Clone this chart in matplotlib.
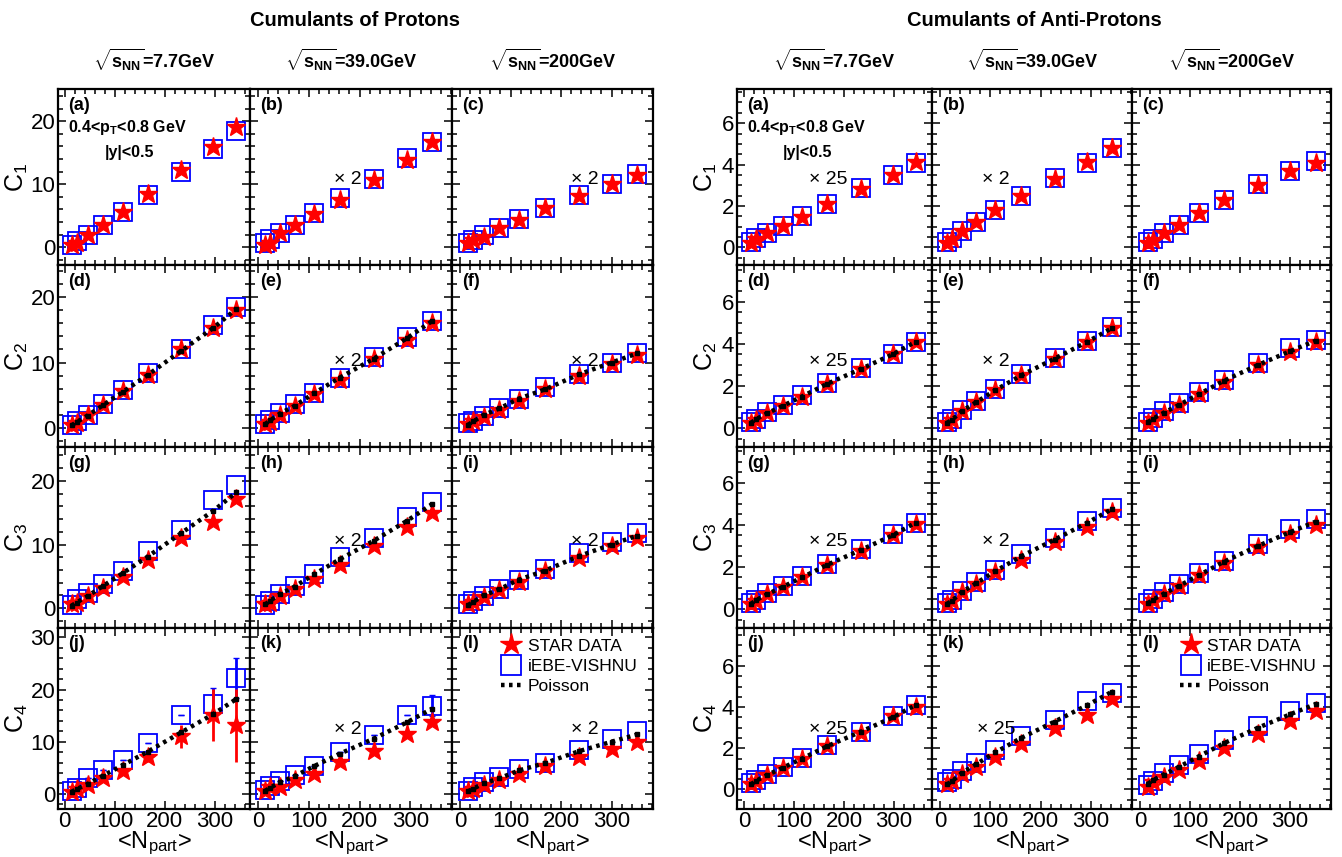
import matplotlib
matplotlib.use('Agg')
import matplotlib.pyplot as plt
from matplotlib.lines import Line2D
from matplotlib.ticker import MultipleLocator

plt.rcParams['font.family'] = ['Liberation Sans', 'DejaVu Sans']
plt.rcParams['mathtext.fontset'] = 'custom'
plt.rcParams['mathtext.rm'] = 'Liberation Sans'
plt.rcParams['mathtext.it'] = 'Liberation Sans:italic'
plt.rcParams['mathtext.bf'] = 'Liberation Sans:bold'

# <Npart> for 7.7, 39, 200 GeV
npart_77 = [14, 24, 46, 77, 116, 166, 233, 297, 343]
npart_39 = [14, 24, 43, 72, 110, 161, 228, 293, 342]
npart_200 = [16, 26, 47, 78, 117, 168, 236, 300, 351]
npart = [npart_77, npart_39, npart_200]

# ---- protons (39 and 200 GeV values as drawn, i.e. already x2) ----
p_star_c1 = [[0.4, 0.7, 2.0, 3.5, 5.6, 8.4, 12.2, 15.9, 19.0],
             [0.4, 0.7, 2.2, 3.5, 5.3, 7.5, 10.7, 13.8, 16.7],
             [0.7, 1.1, 1.7, 3.0, 4.4, 6.3, 8.2, 10.0, 11.5]]
p_star_c2 = [[0.45, 0.8, 2.0, 3.5, 5.6, 8.1, 12.0, 15.3, 18.0],
             [0.6, 0.9, 2.0, 3.4, 5.2, 7.4, 10.5, 13.4, 16.0],
             [0.6, 1.0, 1.7, 2.8, 4.2, 6.0, 8.0, 9.8, 11.2]]
p_star_c3 = [[0.6, 0.9, 1.9, 3.2, 4.9, 7.5, 11.0, 13.6, 17.1],
             [0.6, 0.9, 1.9, 3.0, 4.6, 6.8, 9.8, 12.7, 15.0],
             [0.6, 1.0, 1.7, 2.8, 4.1, 5.8, 7.9, 9.8, 11.0]]
p_star_c4 = [[0.45, 0.9, 1.7, 3.0, 4.3, 7.1, 11.0, 15.1, 13.2],
             [0.6, 1.3, 1.4, 2.6, 3.9, 6.1, 8.2, 11.4, 13.7],
             [0.6, 0.9, 1.7, 2.7, 3.8, 5.4, 7.1, 8.6, 10.0]]
p_star_c4_err_77 = [0, 0, 0, 0.3, 0.5, 1.0, 2.2, 5.0, 7.0]

p_model_c1 = [[0.4, 1.0, 2.0, 3.6, 5.6, 8.3, 11.9, 15.6, 18.5],
              [0.7, 1.3, 2.3, 3.6, 5.5, 7.8, 10.9, 14.1, 16.7],
              [0.7, 1.1, 1.9, 3.0, 4.5, 6.3, 8.3, 10.1, 11.6]]
p_model_c2 = [[0.4, 1.0, 2.0, 3.6, 5.8, 8.4, 12.0, 15.8, 18.5],
              [0.6, 1.2, 2.3, 3.6, 5.3, 7.7, 10.9, 13.9, 16.3],
              [0.7, 1.1, 1.9, 3.0, 4.4, 6.3, 8.3, 10.0, 11.5]]
p_model_c3 = [[0.5, 1.4, 2.4, 3.8, 5.9, 9.0, 12.2, 17.0, 19.4],
              [0.5, 1.1, 2.2, 3.5, 5.4, 8.1, 11.1, 14.3, 16.7],
              [0.7, 1.2, 1.9, 3.0, 4.4, 6.2, 8.6, 10.4, 11.8]]
p_model_c4 = [[0.6, 1.2, 3.0, 4.6, 6.5, 9.7, 15.1, 17.3, 22.2],
              [0.8, 1.6, 2.4, 3.7, 5.3, 8.0, 11.3, 15.1, 16.9],
              [0.6, 1.4, 2.2, 3.3, 4.7, 6.0, 8.4, 10.6, 12.0]]
p_model_c4_err_77 = [0, 0, 0, 0, 0, 0, 0, 3.0, 3.9]
p_model_c4_err_39 = [0, 0, 0, 0, 0, 0, 0, 0, 2.0]

p_poisson = [[0.4, 0.9, 1.9, 3.5, 5.5, 8.1, 11.8, 15.3, 18.2],
             [0.6, 1.2, 2.2, 3.4, 5.3, 7.7, 10.6, 13.7, 16.3],
             [0.5, 1.0, 2.0, 3.0, 4.5, 5.9, 8.2, 10.0, 11.4]]

# ---- anti-protons (values as drawn, scaled x25 / x2) ----
pb_star_c1 = [[0.23, 0.42, 0.69, 1.03, 1.47, 2.08, 2.84, 3.52, 4.13],
              [0.23, 0.39, 0.8, 1.23, 1.82, 2.48, 3.32, 4.13, 4.8],
              [0.2, 0.35, 0.7, 1.1, 1.65, 2.3, 3.0, 3.7, 4.1]]
pb_star_c2 = [[0.25, 0.4, 0.7, 1.05, 1.5, 2.1, 2.8, 3.5, 4.1],
              [0.25, 0.4, 0.8, 1.25, 1.8, 2.5, 3.3, 4.1, 4.75],
              [0.25, 0.45, 0.7, 1.1, 1.6, 2.2, 3.0, 3.6, 4.1]]
pb_star_c3 = [[0.25, 0.4, 0.7, 1.05, 1.5, 2.1, 2.75, 3.5, 4.05],
              [0.25, 0.4, 0.8, 1.2, 1.75, 2.35, 3.2, 3.9, 4.6],
              [0.25, 0.45, 0.7, 1.1, 1.6, 2.2, 2.95, 3.55, 4.0]]
pb_star_c4 = [[0.25, 0.4, 0.7, 1.05, 1.5, 2.1, 2.75, 3.55, 4.0],
              [0.25, 0.4, 0.75, 1.1, 1.6, 2.2, 3.0, 3.6, 4.4],
              [0.12, 0.36, 0.6, 0.94, 1.38, 2.0, 2.68, 3.34, 3.81]]

pb_model_c1 = [[0.25, 0.45, 0.7, 1.05, 1.5, 2.1, 2.85, 3.5, 4.1],
               [0.25, 0.45, 0.8, 1.25, 1.8, 2.5, 3.35, 4.1, 4.8],
               [0.25, 0.4, 0.7, 1.1, 1.65, 2.3, 3.05, 3.7, 4.15]]
pb_model_c2 = [[0.3, 0.45, 0.75, 1.1, 1.55, 2.15, 2.85, 3.5, 4.1],
               [0.3, 0.45, 0.85, 1.3, 1.85, 2.55, 3.35, 4.15, 4.8],
               [0.3, 0.5, 0.8, 1.2, 1.7, 2.3, 3.1, 3.8, 4.2]]
pb_model_c3 = [[0.3, 0.45, 0.75, 1.1, 1.55, 2.15, 2.85, 3.55, 4.1],
               [0.3, 0.45, 0.85, 1.3, 1.85, 2.6, 3.4, 4.2, 4.8],
               [0.3, 0.5, 0.8, 1.2, 1.7, 2.3, 3.1, 3.8, 4.3]]
pb_model_c4 = [[0.3, 0.45, 0.75, 1.1, 1.55, 2.15, 2.8, 3.55, 4.1],
               [0.35, 0.5, 0.9, 1.3, 1.9, 2.6, 3.4, 4.3, 4.7],
               [0.24, 0.43, 0.8, 1.2, 1.7, 2.4, 3.1, 3.8, 4.2]]

pb_poisson = [[0.25, 0.42, 0.7, 1.05, 1.5, 2.1, 2.8, 3.5, 4.1],
              [0.25, 0.4, 0.8, 1.23, 1.8, 2.5, 3.3, 4.1, 4.75],
              [0.28, 0.45, 0.72, 1.1, 1.6, 2.25, 3.0, 3.65, 4.15]]

energies = ['7.7GeV', '39.0GeV', '200GeV']
panel_letters = ['abc', 'def', 'ghi', 'jkl']
p_scale_text = [['', '× 2', '× 2']] * 4
pb_scale_text = [['× 25', '× 2', ''], ['× 25', '× 2', ''],
                 ['× 25', '× 2', ''], ['× 25', '× 25', '']]

W, H = 1342, 857
fig = plt.figure(figsize=(W / 100, H / 100), dpi=100)

row_edges = [89, 265, 447, 628, 809]


def px_axes(x0, x1, y0, y1):
    return fig.add_axes([x0 / W, 1 - y1 / H, (x1 - x0) / W, (y1 - y0) / H])


def fx(x):
    return x / W


def fy(y):
    return 1 - y / H


groups = [
    dict(cols=[58, 250, 452, 653], title='Cumulants of Protons',
         star=[p_star_c1, p_star_c2, p_star_c3, p_star_c4],
         model=[p_model_c1, p_model_c2, p_model_c3, p_model_c4],
         pois=p_poisson, scale=p_scale_text,
         ylims=[(-2.8, 25.1), (-2.9, 24.9), (-3.1, 25.3), (-2.9, 31.8)],
         ymaj=10, ymin=2, scale_x=[None, 348, 585], ylab_x=17,
         xlims=[(-13, 370), (-16, 382), (-16, 382)]),
    dict(cols=[737, 932, 1132, 1331], title='Cumulants of Anti-Protons',
         star=[pb_star_c1, pb_star_c2, pb_star_c3, pb_star_c4],
         model=[pb_model_c1, pb_model_c2, pb_model_c3, pb_model_c4],
         pois=pb_poisson, scale=pb_scale_text,
         ylims=[(-0.85, 7.65), (-0.9, 7.75), (-0.9, 7.7), (-0.95, 7.85)],
         ymaj=2, ymin=0.5, scale_x=[828, 996, None], ylab_x=706,
         xlims=[(-14, 376), (-16, 382), (-16, 382)]),
]
scale_y = [180, 361, 541, 730]
dotted = (0, (0.8, 1.0))

for gi, g in enumerate(groups):
    cols = g['cols']
    fig.text(fx((cols[0] + cols[3]) / 2), fy(21), g['title'], ha='center',
             va='center', fontsize=14.5, fontweight='bold')
    for c in range(3):
        fig.text(fx((cols[c] + cols[c + 1]) / 2), fy(60),
                 r'$\sqrt{\mathbf{s}_{\mathbf{NN}}}$=' + energies[c], ha='center',
                 va='center', fontsize=13, fontweight='bold')
    for r in range(4):
        for c in range(3):
            ax = px_axes(cols[c], cols[c + 1], row_edges[r], row_edges[r + 1])
            x = npart[c]
            ax.plot(x, g['model'][r][c], ls='none', marker='s', ms=13.3,
                    mfc='none', mec='#0000ff', mew=1.3, zorder=2)
            ax.plot(x, g['star'][r][c], ls='none', marker='*', ms=14,
                    color='red', mec='red', zorder=3)
            if gi == 0 and r == 3 and c == 0:
                ax.errorbar(x, g['star'][r][c], yerr=p_star_c4_err_77, fmt='none',
                            ecolor='red', elinewidth=2, capsize=0, zorder=2.5)
                ax.errorbar(x, g['model'][r][c], yerr=p_model_c4_err_77, fmt='none',
                            ecolor='#0000ff', elinewidth=2, capsize=2, zorder=2.4)
            if gi == 0 and r == 3 and c == 1:
                ax.errorbar(x, g['model'][r][c], yerr=p_model_c4_err_39, fmt='none',
                            ecolor='#0000ff', elinewidth=2, capsize=2, zorder=2.4)
            if r > 0:
                ax.plot(x, g['pois'][c], color='black', lw=3.2, ls=dotted,
                        marker='s', ms=3.5, zorder=4)

            ax.set_xlim(*g['xlims'][c])
            ax.set_ylim(*g['ylims'][r])
            ax.xaxis.set_major_locator(MultipleLocator(100))
            ax.xaxis.set_minor_locator(MultipleLocator(20))
            ax.yaxis.set_major_locator(MultipleLocator(g['ymaj']))
            ax.yaxis.set_minor_locator(MultipleLocator(g['ymin']))
            ax.tick_params(which='both', direction='in', top=True, right=True,
                           width=1.1, labelsize=16, colors='black')
            ax.tick_params(which='major', length=6)
            ax.tick_params(which='minor', length=3.5)
            ax.tick_params(axis='x', pad=1.5)
            ax.tick_params(axis='y', pad=2)
            if c > 0:
                ax.tick_params(labelleft=False)
            if r < 3:
                ax.tick_params(labelbottom=False)
            for sp in ax.spines.values():
                sp.set_linewidth(1.6)

            ax.text(10 / (cols[c + 1] - cols[c]), 1 - 16 / (row_edges[r + 1] - row_edges[r]),
                    '(' + panel_letters[r][c] + ')', transform=ax.transAxes,
                    ha='left', va='center', fontsize=13, fontweight='bold')

            st = g['scale'][r][c]
            if st:
                fig.text(fx(g['scale_x'][c]), fy(scale_y[r]), st, ha='center',
                         va='center', fontsize=14)

            if r == 3:
                fig.text(fx((cols[c] + cols[c + 1]) / 2), fy(848),
                         r'<N$_{\rm part}$>', ha='center', va='baseline',
                         fontsize=17)

            if r == 3 and c == 2:
                handles = [
                    Line2D([], [], ls='none', marker='*', ms=16, color='red'),
                    Line2D([], [], ls='none', marker='s', ms=15, mfc='none',
                           mec='#0000ff', mew=1.3),
                    Line2D([], [], color='black', lw=3.2, ls=dotted),
                ]
                ax.legend(handles, ['STAR DATA', 'iEBE-VISHNU', 'Poisson'],
                          loc='upper left', bbox_to_anchor=(0.19, 1.0),
                          frameon=False, handlelength=1.25, handletextpad=0.3,
                          labelspacing=0.28, borderaxespad=0.2,
                          prop={'size': 12.5})

        fig.text(fx(g['ylab_x']), fy((row_edges[r] + row_edges[r + 1]) / 2),
                 'C$_%d$' % (r + 1), rotation=90, ha='center', va='center',
                 fontsize=18)

    fig.text(fx(cols[0] + 10), fy(128), r'0.4<$\mathbf{p_{T}}$<0.8 GeV',
             ha='left', va='center', fontsize=11.5, fontweight='bold')
    fig.text(fx(cols[0] + 71), fy(152), '|y|<0.5', ha='center', va='center',
             fontsize=11.5, fontweight='bold')

fig.savefig('out.png', dpi=100)
